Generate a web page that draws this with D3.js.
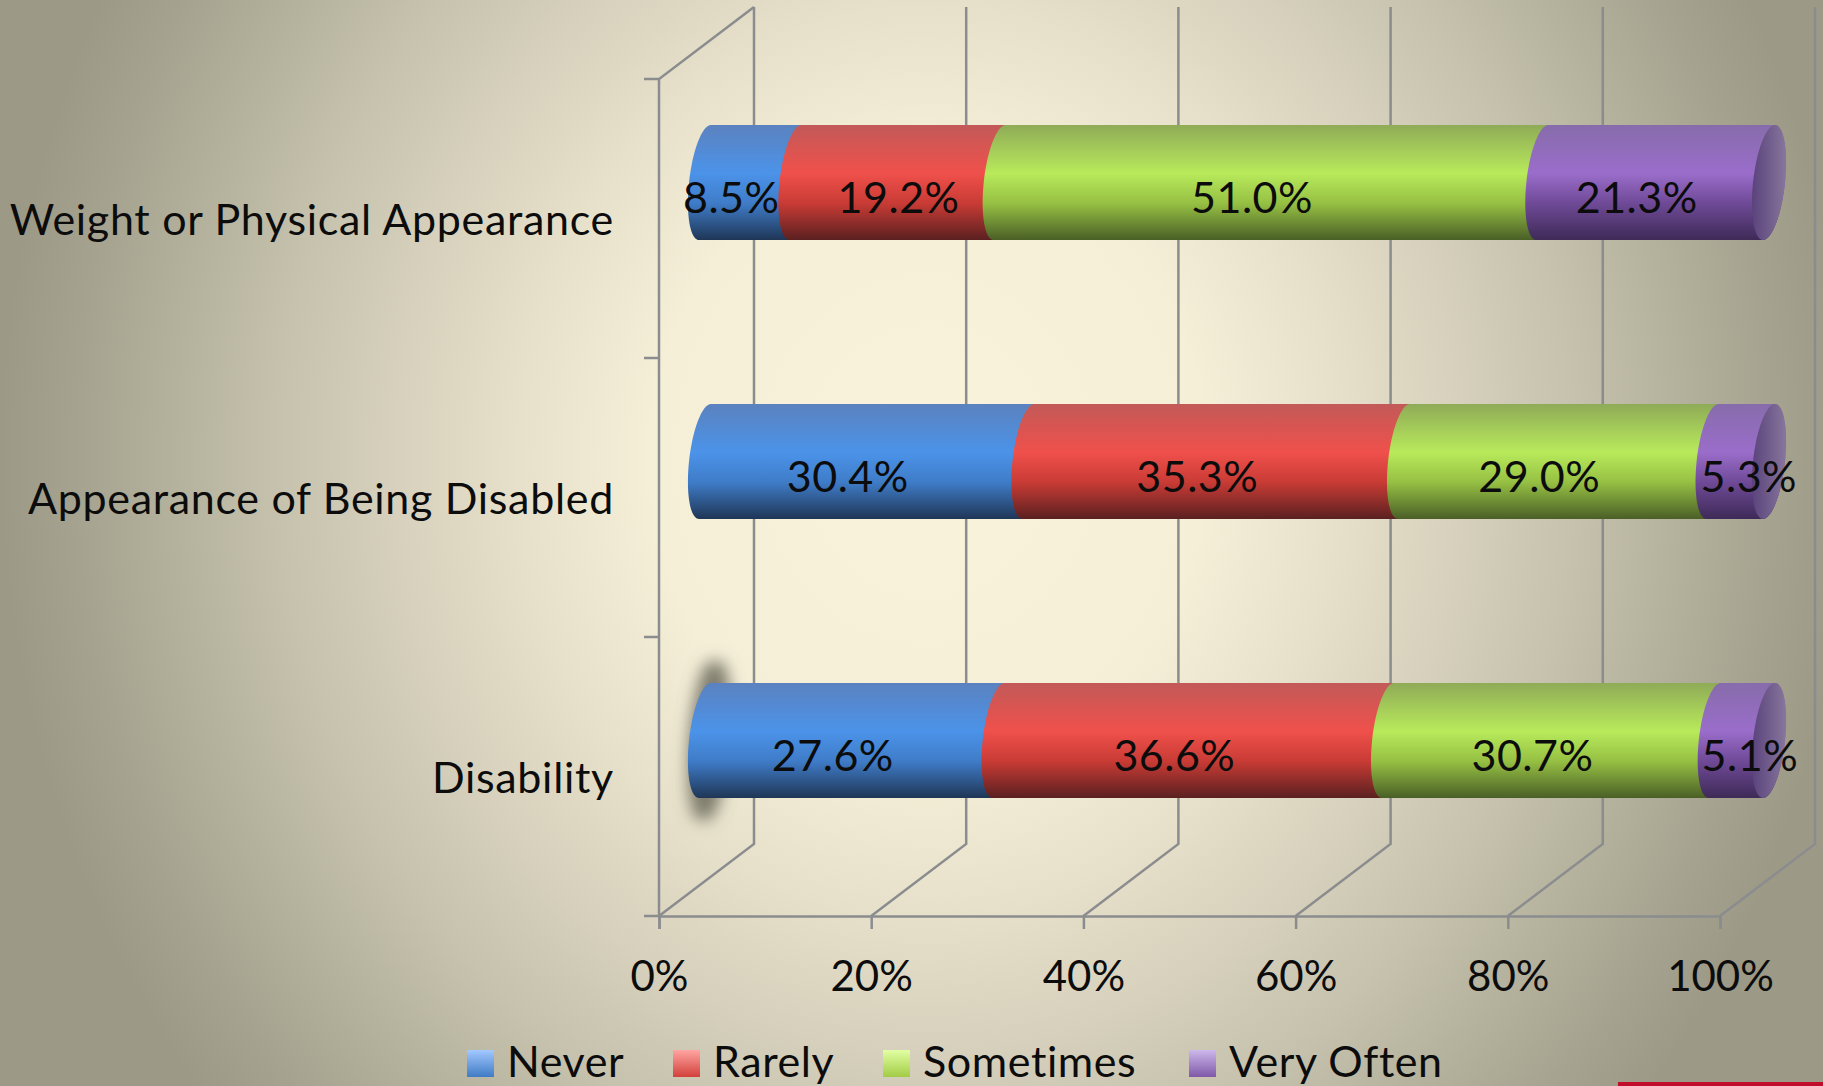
<!DOCTYPE html>
<html>
  <head>
    <meta charset="UTF-8">
    <script src="https://d3js.org/d3.v7.min.js" charset="utf-8"></script>
    <title>stacked cylinder bars</title>
    <style>
      html, body { margin: 0; padding: 0; background: #b5b29e; }
      svg { display: block; }
      text { font-family: Lato, "Open Sans", sans-serif; fill: #0c0c0c; }
    </style>
  </head>
  <body>
    <svg class="chart"></svg>
    <script type="text/javascript">

     var categories = ["Weight or Physical Appearance", "Appearance of Being Disabled", "Disability"];
     var seriesNames = ["Never", "Rarely", "Sometimes", "Very Often"];
     var never = [8.5, 30.4, 27.6];
     var rarely = [19.2, 35.3, 36.6];
     var sometimes = [51.0, 29.0, 30.7];
     var veryOften = [21.3, 5.3, 5.1];
     var tickLabels = [0, 20, 40, 60, 80, 100];

     var width = 1823,
         height = 1086,
         depthX = 95,
         depthY = 72,
         axisLeft = 659,
         axisRight = 1720,
         axisTop = 79,
         axisBottom = 916,
         barHeight = 115,
         capRx = 16,
         capSkew = 6;

     // light, mid, lower, dark stops of the cylinder shading, per series
     var shades = [
         ["#5b82bf", "#4b93e9", "#3f7cc8", "#1f3656"],
         ["#c25a58", "#f0504b", "#c93b35", "#5a2020"],
         ["#8fab57", "#b8ea5b", "#96c043", "#4a5f27"],
         ["#876cab", "#9a6dca", "#6f4a97", "#3e2a57"]
     ];
     var legendShades = [
         ["#a3c8ff", "#3f7bc4"],
         ["#ffa5a2", "#d2403b"],
         ["#e2ffa3", "#a2cc45"],
         ["#cdb8ec", "#7f58a8"]
     ];

     var chart = d3.select(".chart")
                   .attr("width", width)
                   .attr("height", height);

     var defs = chart.append("defs");

     var bg = defs.append("radialGradient")
                  .attr("id", "bg")
                  .attr("gradientUnits", "userSpaceOnUse")
                  .attr("cx", 925).attr("cy", 460).attr("r", 925)
                  .attr("fx", 930).attr("fy", 460)
                  .attr("gradientTransform", "translate(0,460) scale(1,1.1) translate(0,-460)");
     [[0, "#f9f3dc"], [0.3, "#f5efd8"], [0.45, "#e6e0ca"], [0.58, "#d6d0bc"], [0.7, "#c6c2ae"],
      [0.8, "#b6b39f"], [0.92, "#a5a28f"], [1, "#9c9987"]].forEach(function(s) {
         bg.append("stop").attr("offset", s[0]).attr("stop-color", s[1]);
     });

     shades.forEach(function(c, i) {
         var g = defs.append("linearGradient")
                     .attr("id", "shade" + i)
                     .attr("x1", 0).attr("y1", 0).attr("x2", 0).attr("y2", 1);
         [0, 0.42, 0.68, 1].forEach(function(o, j) {
             g.append("stop").attr("offset", o).attr("stop-color", c[j]);
         });
     });
     legendShades.forEach(function(c, i) {
         var g = defs.append("linearGradient")
                     .attr("id", "legend" + i)
                     .attr("x1", 0).attr("y1", 0).attr("x2", 0).attr("y2", 1);
         g.append("stop").attr("offset", 0).attr("stop-color", c[0]);
         g.append("stop").attr("offset", 1).attr("stop-color", c[1]);
     });

     var capFill = defs.append("linearGradient").attr("id", "capFill");
     capFill.append("stop").attr("offset", 0).attr("stop-color", "#5a437c");
     capFill.append("stop").attr("offset", 1).attr("stop-color", "#87769c");

     defs.append("filter").attr("id", "blur")
         .attr("x", "-200%").attr("width", "500%")
         .attr("y", "-20%").attr("height", "140%")
         .append("feGaussianBlur").attr("stdDeviation", 8);

     chart.append("rect")
          .attr("width", width).attr("height", height)
          .attr("fill", "url(#bg)");

     var xFront = d3.scaleLinear().domain([0, 100]).range([axisLeft, axisRight]);
     var xBar = d3.scaleLinear().domain([0, 100]).range([705, 1769]);
     var yBand = d3.scaleBand().domain(categories).range([axisTop, axisBottom]);

     // walls and gridlines
     var gridColor = "#8b8c8e";
     var walls = chart.append("g").attr("class", "walls")
                      .attr("fill", "none")
                      .attr("stroke", gridColor)
                      .attr("stroke-width", 2.5);

     walls.selectAll("path.grid")
          .data(tickLabels)
          .enter().append("path")
          .attr("class", "grid")
          .attr("d", function(d) {
              var x = xFront(d);
              return "M" + x + "," + axisBottom +
                     "L" + (x + depthX) + "," + (axisBottom - depthY) +
                     "L" + (x + depthX) + "," + (axisTop - depthY);
          });

     walls.append("path")
          .attr("d", "M" + axisLeft + "," + axisBottom +
                     "L" + axisLeft + "," + axisTop +
                     "L" + (axisLeft + depthX) + "," + (axisTop - depthY));

     // category ticks on the front edge
     var catTicks = categories.map(function(c) { return yBand(c); }).concat([axisBottom]);
     walls.selectAll("line.cat")
          .data(catTicks)
          .enter().append("line")
          .attr("class", "cat")
          .attr("x1", axisLeft - 15).attr("x2", axisLeft)
          .attr("y1", function(d) { return d; })
          .attr("y2", function(d) { return d; });

     // value axis
     var xAxis = d3.axisBottom(xFront)
                   .tickValues(tickLabels)
                   .tickFormat(function(d) { return d + "%"; })
                   .tickSize(13)
                   .tickPadding(32);
     var xAxisG = chart.append("g")
                       .attr("transform", "translate(0," + axisBottom + ")")
                       .call(xAxis);
     xAxisG.selectAll("path, line").attr("stroke", gridColor).attr("stroke-width", 2.5);
     xAxisG.selectAll("text").attr("font-size", 42).style("font-family", "Lato");

     // category labels
     chart.append("g").selectAll("text")
          .data(categories)
          .enter().append("text")
          .attr("x", 614)
          .attr("y", function(d) { return yBand(d) + yBand.bandwidth() / 2 + 16; })
          .attr("text-anchor", "end")
          .attr("font-size", 43)
          .attr("letter-spacing", 0.7)
          .text(function(d) { return d; });

     // stacked rows
     var seriesValues = [never, rarely, sometimes, veryOften];
     var rows = categories.map(function(c, r) {
         var sum = 0;
         return seriesValues.map(function(v, s) {
             var item = {row: r, series: s, value: v[r], start: sum, end: sum + v[r]};
             sum += v[r];
             return item;
         });
     });

     // cylinder outline, ends are skewed ellipses
     function cylinder(x0, x1, top, bottom) {
         var cy = (top + bottom) / 2, ry = (bottom - top) / 2, k = 0.5523;
         function p(x, u, v) {
             return (x + capRx * u - capSkew * v) + "," + (cy + ry * v);
         }
         return "M" + p(x0, 0, -1) +
                "L" + p(x1, 0, -1) +
                "C" + p(x1, k, -1) + " " + p(x1, 1, -k) + " " + p(x1, 1, 0) +
                "C" + p(x1, 1, k) + " " + p(x1, k, 1) + " " + p(x1, 0, 1) +
                "L" + p(x0, 0, 1) +
                "C" + p(x0, -k, 1) + " " + p(x0, -1, k) + " " + p(x0, -1, 0) +
                "C" + p(x0, -1, -k) + " " + p(x0, -k, -1) + " " + p(x0, 0, -1) + "Z";
     }

     function rowTop(r) { return yBand(categories[r]) + 46; }

     // the soft halo behind the last row's left end
     var lastTop = rowTop(2);
     chart.append("path")
          .attr("d", cylinder(xBar(0), xBar(0.8), lastTop - 22, lastTop + barHeight + 22))
          .attr("fill", "#6a695b")
          .attr("fill-opacity", 0.85)
          .attr("filter", "url(#blur)");

     var bars = chart.append("g").attr("class", "bars")
                     .selectAll("g")
                     .data(rows)
                     .enter().append("g");

     bars.selectAll("path.seg")
         .data(function(d) { return d; })
         .enter().append("path")
         .attr("class", "seg")
         .attr("fill", function(d) { return "url(#shade" + d.series + ")"; })
         .attr("d", function(d) {
             return cylinder(xBar(d.start), xBar(d.end), rowTop(d.row), rowTop(d.row) + barHeight);
         });

     bars.append("path")
         .attr("fill", "url(#capFill)")
         .attr("d", function(d, r) {
             return cylinder(xBar(100), xBar(100), rowTop(r), rowTop(r) + barHeight);
         });

     function labelShift(d) {
         if (d.value < 6) return 8;
         if (d.row === 0 && d.series === 1) return 1;
         return -19;
     }

     bars.selectAll("text")
         .data(function(d) { return d; })
         .enter().append("text")
         .attr("x", function(d) { return xBar((d.start + d.end) / 2) + labelShift(d); })
         .attr("y", function(d) { return rowTop(d.row) + 88; })
         .attr("text-anchor", "middle")
         .attr("font-size", 43)
         .attr("letter-spacing", 0.5)
         .text(function(d) { return d.value.toFixed(1) + "%"; });

     // legend
     var legendSwatch = d3.scaleOrdinal().domain(seriesNames).range([467, 673, 883, 1189]);
     var legend = chart.append("g").attr("class", "legend")
                       .selectAll("g")
                       .data(seriesNames)
                       .enter().append("g")
                       .attr("transform", function(d) { return "translate(" + legendSwatch(d) + ",1050)"; });
     legend.append("rect")
           .attr("width", 27).attr("height", 27)
           .attr("fill", function(d, i) { return "url(#legend" + i + ")"; });
     legend.append("text")
           .attr("x", 40).attr("y", 27)
           .attr("font-size", 43)
           .attr("letter-spacing", 0.6)
           .text(function(d) { return d; });

     // sliver of the slide's red footer
     chart.append("rect")
          .attr("x", 1618).attr("y", 1082)
          .attr("width", width - 1618).attr("height", 4)
          .attr("fill", "#c00d2c");

    </script>
  </body>
</html>
